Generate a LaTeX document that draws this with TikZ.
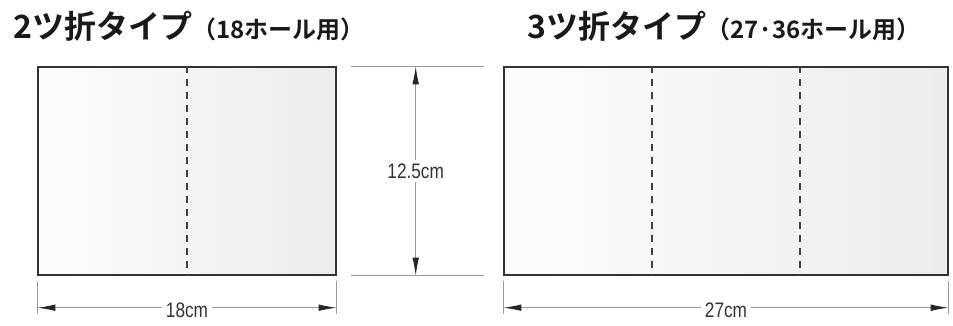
\documentclass[tikz,border=0pt]{standalone}
\usepackage{fontspec}
\setmainfont{Liberation Sans}[FakeStretch=0.82]
\newfontfamily\jp{Noto Sans CJK JP Bold}
\usetikzlibrary{arrows.meta,positioning,calc}

\begin{document}
\begin{tikzpicture}[x=1pt,y=-1pt,>={Latex[length=18pt,width=6.5pt,color=black!85]},
    panel/.style={draw=black!80,line width=1.4pt,left color=gray!2,right color=gray!15,
      minimum height=208pt,inner sep=0pt},
    fold/.style={black!75,line width=1.6pt,dash pattern=on 7pt off 6pt},
    dim/.style={black!40,line width=0.9pt},
    dimlabel/.style={fill=white,text=black!80,font=\fontsize{21}{21}\selectfont,inner sep=4pt},
    title/.style={anchor=base west,inner sep=0pt,text=black!90}]
  \useasboundingbox (0,0) rectangle (953,326);

  % titles
  \node[title] (t2) at (13,39) {\jp\fontsize{32}{32}\selectfont 2ツ折タイプ\fontsize{24}{24}\selectfont（18ホール用）};
  \node[title] (t3) at (527,39) {\jp\fontsize{32}{32}\selectfont 3ツ折タイプ\fontsize{24}{24}\selectfont（27·36ホール用）};

  % panels
  \node[panel,minimum width=298pt] (fold2) at (187,171) {};
  \node[panel,minimum width=444pt] (fold3) at (726,171) {};
  \draw[fold] (fold2.north) -- (fold2.south);
  \draw[fold] ($(fold3.north west)!1/3!(fold3.north east)$) -- ($(fold3.south west)!1/3!(fold3.south east)$);
  \draw[fold] ($(fold3.north west)!2/3!(fold3.north east)$) -- ($(fold3.south west)!2/3!(fold3.south east)$);

  % height
  \draw[dim] ([shift={(14,0)}]fold2.north east) -- ++(133,0);
  \draw[dim] ([shift={(14,0)}]fold2.south east) -- ++(133,0);
  \coordinate (h1) at ([shift={(79,0)}]fold2.north east);
  \coordinate (h2) at ([shift={(79,0)}]fold2.south east);
  \draw[dim,<->] (h1) -- (h2);
  \node[dimlabel] (hl) at ($(h1)!0.5!(h2)$) {12.5cm};

  % width, 2 folds
  \draw[dim] ([shift={(0,5)}]fold2.south west) -- ++(0,33);
  \draw[dim] ([shift={(0,5)}]fold2.south east) -- ++(0,33);
  \coordinate (a2) at ([shift={(0,32)}]fold2.south west);
  \coordinate (b2) at ([shift={(0,32)}]fold2.south east);
  \draw[dim,<->] (a2) -- (b2);
  \node[dimlabel] (w2) at ($(a2)!0.5!(b2)+(0,3)$) {18cm};

  % width, 3 folds
  \draw[dim] ([shift={(0,5)}]fold3.south west) -- ++(0,33);
  \draw[dim] ([shift={(0,5)}]fold3.south east) -- ++(0,33);
  \coordinate (a3) at ([shift={(0,32)}]fold3.south west);
  \coordinate (b3) at ([shift={(0,32)}]fold3.south east);
  \draw[dim,<->] (a3) -- (b3);
  \node[dimlabel] (w3) at ($(a3)!0.5!(b3)+(0,3)$) {27cm};
\end{tikzpicture}
\end{document}
